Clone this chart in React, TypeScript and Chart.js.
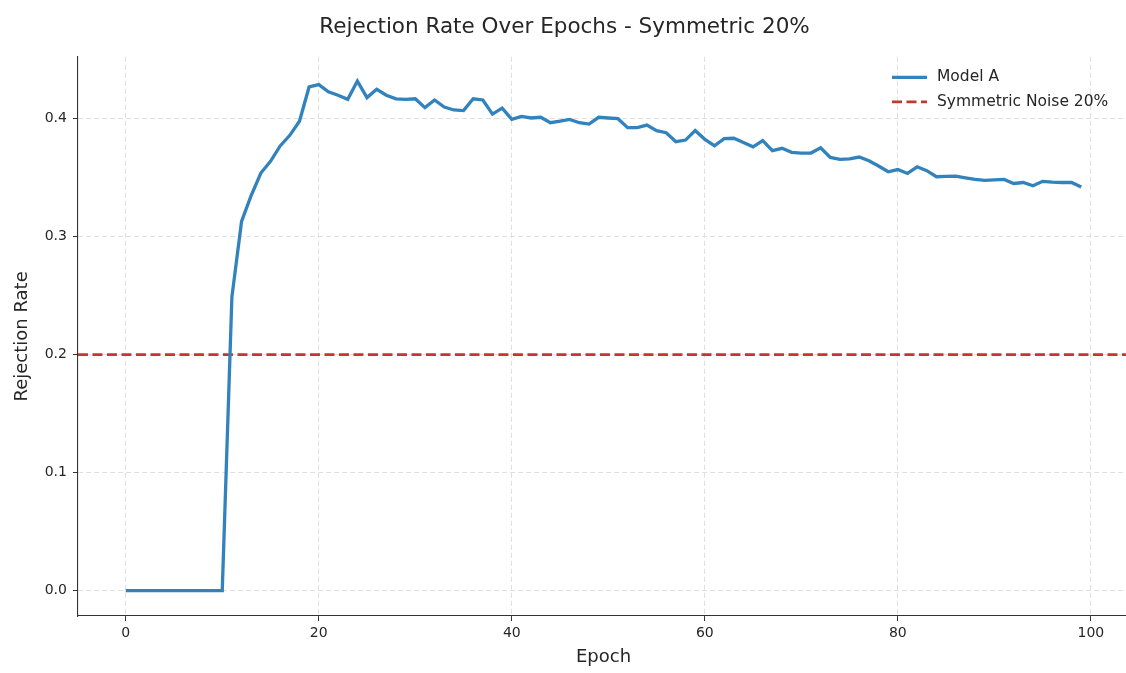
import React, { useEffect, useRef } from "react";
import { Chart, registerables } from "chart.js";

Chart.register(...registerables);

// ---- data ----
const chartTitle = "Rejection Rate Over Epochs - Symmetric 20%";
const xAxisLabel = "Epoch";
const yAxisLabel = "Rejection Rate";
const seriesLabel = "Model A";
const noiseLabel = "Symmetric Noise 20%";
const noiseLevel = 0.2;

const rejectionRate = [
  0, 0, 0, 0, 0, 0, 0, 0, 0, 0, 0,
  0.249, 0.313, 0.335, 0.354, 0.364, 0.377, 0.386, 0.398, 0.427,
  0.429, 0.423, 0.42, 0.4165, 0.432, 0.418, 0.425, 0.42, 0.417, 0.4165,
  0.417, 0.4095, 0.416, 0.41, 0.4075, 0.407, 0.417, 0.416, 0.404, 0.409,
  0.3995, 0.402, 0.4007, 0.4013, 0.3967, 0.398, 0.3995, 0.3967, 0.3956, 0.4013,
  0.4007, 0.4001, 0.3925, 0.3925, 0.3947, 0.39, 0.3882, 0.3806, 0.382, 0.39,
  0.3826, 0.3772, 0.3832, 0.3835, 0.38, 0.3763, 0.3815, 0.373, 0.375, 0.3716,
  0.371, 0.371, 0.3755, 0.3673, 0.3656, 0.3661, 0.3676, 0.3644, 0.36, 0.3551,
  0.357, 0.3537, 0.3593, 0.356, 0.3509, 0.3512, 0.3514, 0.35, 0.3486, 0.3478,
  0.3483, 0.3486, 0.3452, 0.346, 0.3432, 0.347, 0.3464, 0.346, 0.346, 0.3421,
];

const xTicks = [0, 20, 40, 60, 80, 100];
const yTicks = [0, 0.1, 0.2, 0.3, 0.4];
const xMin = -4.95;
const xMax = 103.95;
const yMin = -0.0216;
const yMax = 0.4526;

const FONT = "'DejaVu Sans', sans-serif";
const TEXT = "#262626";

const legendPlugin = {
  id: "insideLegend",
  afterDraw(chart: any) {
    const { ctx, chartArea } = chart;
    ctx.save();
    ctx.font = `15.5px ${FONT}`;
    ctx.textBaseline = "middle";
    ctx.textAlign = "left";
    chart.data.datasets.forEach((ds: any, i: number) => {
      const y = chartArea.top + 20.5 + i * 24.5;
      const x0 = chartArea.right - 237;
      ctx.beginPath();
      ctx.strokeStyle = ds.borderColor;
      ctx.lineWidth = ds.borderWidth;
      ctx.setLineDash(ds.borderDash || []);
      ctx.moveTo(x0, y);
      ctx.lineTo(x0 + 35, y);
      ctx.stroke();
      ctx.setLineDash([]);
      ctx.fillStyle = TEXT;
      ctx.fillText(ds.label, x0 + 45, y);
    });
    ctx.restore();
  },
};

export default function App() {
  const ref = useRef<HTMLCanvasElement | null>(null);
  useEffect(() => {
    if (!ref.current) return;
    const chart = new Chart(ref.current, {
      type: "line",
      data: {
        datasets: [
          {
            label: seriesLabel,
            data: rejectionRate.map((y, i) => ({ x: i, y })),
            borderColor: "#3182bd",
            borderWidth: 3.3,
            pointRadius: 0,
            tension: 0,
            fill: false,
          },
          {
            label: noiseLabel,
            data: [
              { x: xMin, y: noiseLevel },
              { x: xMax, y: noiseLevel },
            ],
            borderColor: "#c0392b",
            borderWidth: 2.8,
            borderDash: [10, 4.5],
            pointRadius: 0,
            fill: false,
          },
        ],
      },
      options: {
        responsive: false,
        animation: false,
        events: [],
        layout: { padding: { left: 0, right: 0, top: 0, bottom: 0 } },
        plugins: {
          legend: { display: false },
          tooltip: { enabled: false },
          title: {
            display: true,
            text: chartTitle,
            color: TEXT,
            font: { family: FONT, size: 21.5, weight: "normal" },
            padding: { top: 15, bottom: 16 },
          },
        },
        scales: {
          x: {
            type: "linear",
            min: xMin,
            max: xMax,
            afterBuildTicks: (axis: any) => {
              axis.ticks = xTicks.map((v) => ({ value: v }));
            },
            ticks: {
              color: TEXT,
              font: { family: FONT, size: 14 },
              padding: 4,
              maxRotation: 0,
              autoSkip: false,
              callback: (v: any) => String(v),
            },
            grid: {
              color: "#dddddd",
              lineWidth: 0.9,
              tickLength: 5,
              tickColor: "#333333",
              tickWidth: 1,
            },
            border: { color: "#333333", width: 1.1, dash: [5, 3] },
            title: {
              display: true,
              text: xAxisLabel,
              color: TEXT,
              font: { family: FONT, size: 18 },
              padding: { top: 0.4, bottom: 5.2 },
            },
          },
          y: {
            type: "linear",
            min: yMin,
            max: yMax,
            afterBuildTicks: (axis: any) => {
              axis.ticks = yTicks.map((v) => ({ value: v }));
            },
            ticks: {
              color: TEXT,
              font: { family: FONT, size: 14 },
              padding: 6,
              autoSkip: false,
              callback: (v: any) => Number(v).toFixed(1),
            },
            grid: {
              color: "#dddddd",
              lineWidth: 0.9,
              tickLength: 5,
              tickColor: "#333333",
              tickWidth: 1,
            },
            border: { color: "#333333", width: 1.1, dash: [5, 3] },
            title: {
              display: true,
              text: yAxisLabel,
              color: TEXT,
              font: { family: FONT, size: 18 },
              padding: { top: 11.2, bottom: 5.9 },
            },
          },
        },
      },
      plugins: [legendPlugin],
    });
    return () => chart.destroy();
  }, []);

  return (
    <div
      style={{
        position: "fixed",
        left: 0,
        top: 0,
        width: 1126,
        height: 673,
        overflow: "hidden",
        background: "#fff",
      }}
    >
      <canvas ref={ref} width={1129} height={673} style={{ width: 1129, height: 673, display: "block" }} />
    </div>
  );
}
